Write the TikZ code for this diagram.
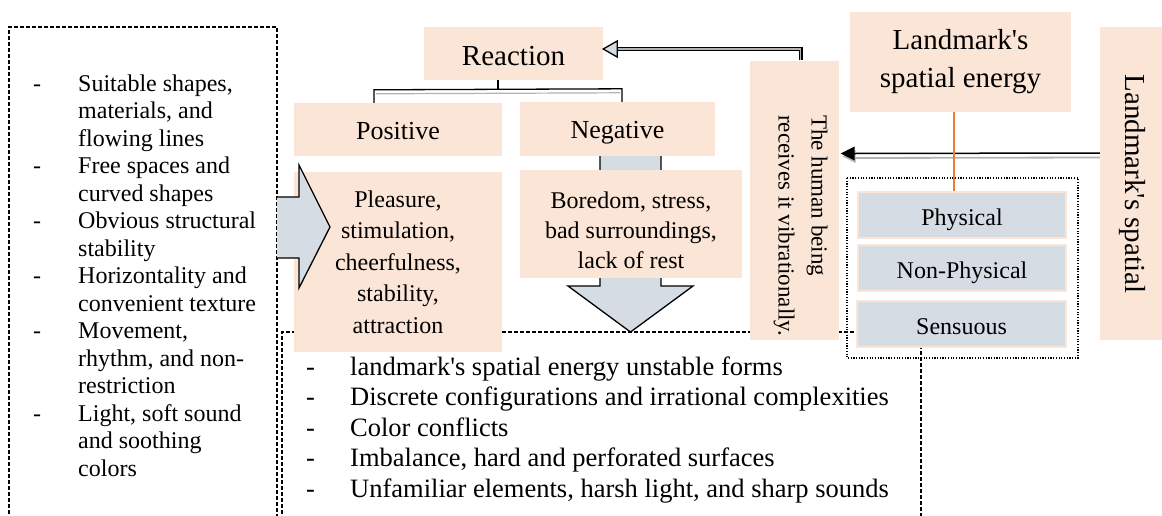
\documentclass[tikz,border=0pt]{standalone}
\usepackage{fontspec}
\setmainfont{Liberation Serif}
\usetikzlibrary{calc}
\definecolor{peach}{HTML}{FBE5D6}
\definecolor{bluegray}{HTML}{D6DCE4}
\definecolor{orangeln}{HTML}{ED7D31}
\newcommand{\apos}{\textquotesingle}
\begin{document}
\begin{tikzpicture}[x=1pt,y=-1pt,
  box/.style={fill=peach, draw=none, inner sep=0, align=center},
  gbox/.style={fill=bluegray, draw=peach, line width=1.5pt, inner sep=0, align=center},
  dashbox/.style={draw=black, line width=1.2pt, dash pattern=on 4pt off 2pt},
  dotbox/.style={draw=black, line width=1.2pt, dash pattern=on 1.2pt off 1.5pt},
  blockarrow/.style={fill=bluegray, draw=black, line width=1.3pt, line join=miter},
  txt/.style={inner sep=0, align=center},
]
\useasboundingbox (0,0) rectangle (1162,515);

% dashed boxes
\draw[dashbox] (9,520) -- (9,27) -- (277,27) -- (277,520);
\draw[dashbox] (282,520) -- (282,332) -- (921,332) -- (921,520);
\draw[dotbox] (847,178) rectangle (1078,358);

% left dashed box list
\node[anchor=north west, inner sep=0] (leftlist) at (33,71.75) {\fontsize{24}{27.5}\selectfont
\begin{tabular}{@{}p{45pt}@{}l@{}}
- & Suitable shapes,\\
  & materials, and\\
  & flowing lines\\
- & Free spaces and\\
  & curved shapes\\
- & Obvious structural\\
  & stability\\
- & Horizontality and\\
  & convenient texture\\
- & Movement,\\
  & rhythm, and non-\\
  & restriction\\
- & Light, soft sound\\
  & and soothing\\
  & colors
\end{tabular}};

% bottom dashed box list
\node[anchor=north west, inner sep=0] (bottomlist) at (306,353.5) {\fontsize{26.5}{30.6}\selectfont
\begin{tabular}{@{}p{44pt}@{}l@{}}
- & landmark\apos s spatial energy unstable forms\\
- & Discrete configurations and irrational complexities\\
- & Color conflicts\\
- & Imbalance, hard and perforated surfaces\\
- & Unfamiliar elements, harsh light, and sharp sounds
\end{tabular}};

% down block arrow (behind the boxes)
\draw[blockarrow] (600,156) -- (600,286) -- (568,286) -- (630.5,332) -- (693,286) -- (661,286) -- (661,156);

% boxes
\node[box, minimum width=179, minimum height=53] (reaction) at (513.5,53.5) {};
\node[txt, font={\fontsize{29}{33}\selectfont}] at (513.5,56.5) {Reaction};
\node[box, minimum width=208, minimum height=53] (positive) at (398,129.5) {};
\node[txt, font={\fontsize{26}{30}\selectfont}] at (398,131.5) {Positive};
\node[box, minimum width=195, minimum height=54] (negative) at (617.5,129) {};
\node[txt, font={\fontsize{26}{30}\selectfont}] at (617.5,132.5) {Negative};
\node[box, minimum width=208, minimum height=180] (pleasure) at (398,262) {};
\node[txt, font={\fontsize{24}{31.5}\selectfont}] (pleasuretxt) at (398,262) {Pleasure,\\stimulation,\\cheerfulness,\\stability,\\attraction};
\node[box, minimum width=222, minimum height=108] (boredom) at (631,224) {};
\node[txt, font={\fontsize{24}{30}\selectfont}] (boredomtxt) at (631,230) {Boredom, stress,\\bad surroundings,\\lack of rest};
\node[box, minimum width=89, minimum height=279] (human) at (794.5,200) {};
\node[txt, rotate=-90, anchor=west, align=left, font={\fontsize{23}{33}\selectfont}] (humantxt) at (800.5,115) {The human being\\receives it vibrationally.};
\node[box, minimum width=221, minimum height=100, font={\fontsize{29}{38}\selectfont}] (energy) at (960.5,62) {Landmark\apos s\\spatial energy};
\node[box, minimum width=62, minimum height=313] (spatial) at (1131,183.5) {};
\node[txt, rotate=-90, font={\fontsize{29}{33}\selectfont}] (spatialtxt) at (1132,184) {Landmark\apos s spatial};
\node[gbox, minimum width=208, minimum height=46] (physical) at (962,215) {};
\node[txt, font={\fontsize{24}{28}\selectfont}] at (962,220) {Physical};
\node[gbox, minimum width=208, minimum height=46] (nonphysical) at (962,268) {};
\node[txt, font={\fontsize{24}{28}\selectfont}] at (962,272.5) {Non-Physical};
\node[gbox, minimum width=209, minimum height=46] (sensuous) at (961.5,324) {};
\node[txt, font={\fontsize{24}{28}\selectfont}] at (961.5,327) {Sensuous};

% left block arrow (over the Pleasure box)
\fill[bluegray] (277,197) -- (299,197) -- (299,165) -- (330,227) -- (299,288) -- (299,258) -- (277,258) -- cycle;
\draw[line width=1.3pt, line join=miter] (277,197) -- (299,197) -- (299,165) -- (330,227) -- (299,288) -- (299,258) -- (277,258);

% bracket Reaction -> Positive / Negative
\draw[gray!60, line width=1.2pt] ($(positive.north)+(-22,-9)$) -- ($(negative.north)+(2.5,-9)$);
\draw[line width=1.3pt] ($(positive.north)+(-24,0)$) -- ($(positive.north)+(-24,-13)$) -- ($(negative.north)+(4.5,-13)$) -- ($(negative.north)+(4.5,0)$);
\draw[line width=1.3pt] ($(reaction.south)+(-15.5,0)$) -- ($(reaction.south)+(-15.5,10)$);

% human -> reaction
\draw[double=gray!60, double distance=1.2pt, line width=1.4pt] ($(human.north)+(6.3,0)$) |- ($(reaction.east)+(14,-4.5)$);
\draw[fill=bluegray, line width=1.3pt, line join=miter] ($(reaction.east)+(0,-4.5)$) -- ++(14,-8) -- ++(0,16) -- cycle;

% landmark -> human
\draw[gray!60, line width=1.8pt] ($(spatial.west)+(0,-26)$) -- ($(human.east)+(14,-42)$);
\fill[gray!60] ($(human.east)+(3.5,-43.5)$) -- ++(13,-6.5) -- ++(0,13) -- cycle;
\draw[black, line width=1.5pt] ($(spatial.west)+(0,-30.5)$) -- ($(human.east)+(14,-46.5)$);
\fill[black] ($(human.east)+(1.5,-46.5)$) -- ++(14,-7) -- ++(0,14) -- cycle;

% orange connector
\draw[orangeln, line width=1.3pt] (energy.south -| 954,0) -- (physical.north -| 954,0);
\end{tikzpicture}
\end{document}
